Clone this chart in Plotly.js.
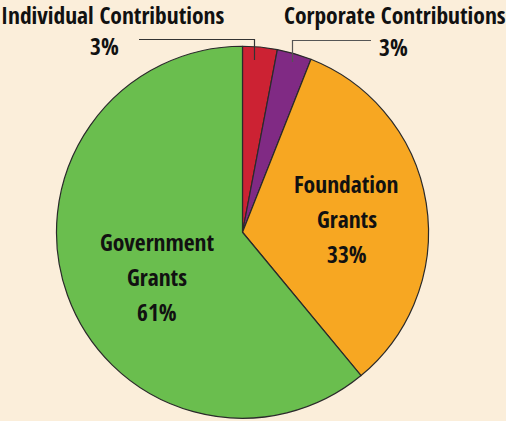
<!DOCTYPE html>
<html>
<head>
<meta charset="utf-8">
<script src="https://cdn.plot.ly/plotly-3.0.1.min.js"></script>
<style>html,body{margin:0;padding:0;background:#FBEEDA;}#chart{width:506px;height:421px;}</style>
</head>
<body>
<div id="chart"></div>
<script>
var categories = ['Individual Contributions', 'Corporate Contributions', 'Foundation Grants', 'Government Grants'];
var insideLines = [[], [], ['Foundation', 'Grants'], ['Government', 'Grants']];
var values = [3, 3, 33, 61];
var colors = ['#CC2233', '#802A84', '#F7A722', '#6ABE4E'];

var FONT = '"Open Sans Condensed", "Roboto Condensed", "DejaVu Sans Condensed", sans-serif';
var FS = 23.5;

var trace = {
  type: 'pie',
  labels: categories,
  values: values,
  sort: false,
  direction: 'clockwise',
  rotation: 0,
  textinfo: 'none',
  marker: {colors: colors, line: {color: '#2a2a2a', width: 1.2}},
  domain: {x: [56.5 / 506, 428.5 / 506], y: [1 - 418.5 / 421, 1 - 46 / 421]},
  hoverinfo: 'none',
  showlegend: false
};

function px(x) { return x / 506; }
function py(y) { return 1 - y / 421; }

function label(txt, x, y) {
  return {x: px(x), y: py(y), xref: 'paper', yref: 'paper', xanchor: 'center', yanchor: 'middle',
    showarrow: false, text: '<b>' + txt + '</b>', font: {family: FONT, size: FS, color: '#111111'}};
}

var annotations = [
  label(categories[0], 112, 15),
  label(values[0] + '%', 104, 46),
  label(categories[1], 395, 15),
  label(values[1] + '%', 393, 47)
];

// inside labels: [center x, first line y] for each big slice
var insidePos = {2: [346.5, 184], 3: [157, 242]};
var LINE_GAP = 35;
Object.keys(insidePos).forEach(function (k) {
  var i = +k;
  var lines = insideLines[i].concat([values[i] + '%']);
  lines.forEach(function (t, j) {
    annotations.push(label(t, insidePos[k][0], insidePos[k][1] + j * LINE_GAP));
  });
});

var shapes = [
  {type: 'path', xref: 'paper', yref: 'paper',
   path: 'M ' + px(139) + ' ' + py(39.5) + ' L ' + px(254.5) + ' ' + py(39.5) + ' L ' + px(254.5) + ' ' + py(60),
   line: {color: '#333333', width: 1.2}},
  {type: 'path', xref: 'paper', yref: 'paper',
   path: 'M ' + px(371) + ' ' + py(40.5) + ' L ' + px(292.5) + ' ' + py(40.5) + ' L ' + px(292.5) + ' ' + py(62),
   line: {color: '#555555', width: 1.2}}
];

var layout = {
  width: 506,
  height: 421,
  margin: {l: 0, r: 0, t: 0, b: 0},
  paper_bgcolor: '#FBEEDA',
  plot_bgcolor: '#FBEEDA',
  annotations: annotations,
  shapes: shapes,
  showlegend: false
};

Plotly.newPlot('chart', [trace], layout, {displayModeBar: false, staticPlot: true});
</script>
</body>
</html>
